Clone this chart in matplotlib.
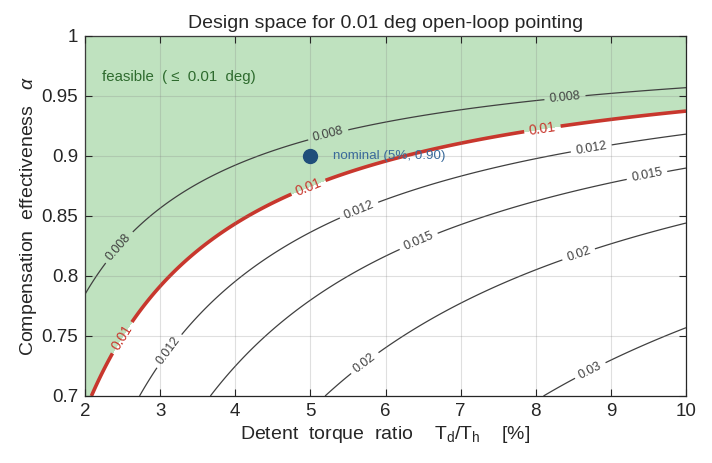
import numpy as np
import matplotlib
matplotlib.use("Agg")
import matplotlib.pyplot as plt

plt.rcParams['font.family'] = ['Liberation Sans', 'DejaVu Sans']
plt.rcParams['mathtext.fontset'] = 'custom'
plt.rcParams['mathtext.rm'] = 'Liberation Sans'
plt.rcParams['mathtext.it'] = 'Liberation Sans:italic'

# axes ranges (detent torque ratio in %, compensation effectiveness)
ratio_range = [2, 10]
alpha_range = [0.7, 1.0]

# pointing error model: err = e0 + k1*u + k2*u^2, u = (1-alpha)*ratio
e0, k1, k2 = 0.00370, 0.00981, 0.000415

# contour levels
grey_levels = [0.008, 0.012, 0.015, 0.02, 0.03]
spec_level = 0.01

# nominal design point
nominal_ratio = 5
nominal_alpha = 0.90

xticks = [2, 3, 4, 5, 6, 7, 8, 9, 10]
yticks = [0.7, 0.75, 0.8, 0.85, 0.9, 0.95, 1.0]
ytick_labels = ['0.7', '0.75', '0.8', '0.85', '0.9', '0.95', '1']

# label spots for the contour labels
grey_label_pos = [(2.47, 0.823), (5.24, 0.917), (8.39, 0.948),
                  (3.13, 0.737), (5.66, 0.853), (8.74, 0.906),
                  (6.42, 0.832), (9.48, 0.884),
                  (5.73, 0.727), (8.56, 0.82),
                  (8.72, 0.722)]
spec_label_pos = [(2.51, 0.748), (5.0, 0.87), (8.09, 0.922)]

x = np.linspace(ratio_range[0], ratio_range[1], 500)
a = np.linspace(alpha_range[0], alpha_range[1], 500)
X, A = np.meshgrid(x, a)
U = (1 - A) * X
E = e0 + k1 * U + k2 * U ** 2

fig = plt.figure(figsize=(7.12, 4.63), dpi=100)
ax = fig.add_axes([85 / 712, 67 / 463, 601 / 712, 360 / 463])

ax.contourf(X, A, E, levels=[0, spec_level], colors=['#bfe2bf'])

cs = ax.contour(X, A, E, levels=grey_levels, colors='#404040', linewidths=0.9)
ax.clabel(cs, fmt=lambda v: f'{v:g}', fontsize=9, inline=True,
          inline_spacing=5, manual=grey_label_pos)

cr = ax.contour(X, A, E, levels=[spec_level], colors='#c8372d', linewidths=2.6)
ax.clabel(cr, fmt=lambda v: f'{v:g}', fontsize=10, inline=True,
          inline_spacing=5, manual=spec_label_pos)

ax.plot(nominal_ratio, nominal_alpha, 'o', color='#1f4e7a', markersize=10, zorder=5)
ax.text(nominal_ratio + 0.3, nominal_alpha, 'nominal (5%, 0.90)', color='#3a6a9a',
        fontsize=9.6, va='center', zorder=5)

ax.text(2.22, 0.966, 'feasible  ( ≤  0.01  deg)', color='#2e6b2e', fontsize=10.8,
        va='center')

ax.set_xlim(ratio_range)
ax.set_ylim(alpha_range)
ax.set_xticks(xticks)
ax.set_yticks(yticks)
ax.set_yticklabels(ytick_labels)
ax.tick_params(direction='in', top=True, right=True, labelsize=13.5,
               length=5, width=0.8, colors='#262626', pad=5)
ax.grid(True, color='#808080', alpha=0.25, linewidth=0.8)
ax.set_axisbelow(False)
for s in ax.spines.values():
    s.set_color('#262626')
    s.set_linewidth(0.9)

ax.set_xlabel('Detent  torque  ratio    $\\mathrm{T_d/T_h}$    [%]', fontsize=14,
              color='#262626', labelpad=3)
ax.set_ylabel('Compensation  effectiveness   $\\alpha$', fontsize=14,
              color='#262626', labelpad=2)
ax.set_title('Design space for 0.01 deg open-loop pointing', fontsize=14,
             color='#262626', pad=6)

fig.savefig('out.png', dpi=100)
